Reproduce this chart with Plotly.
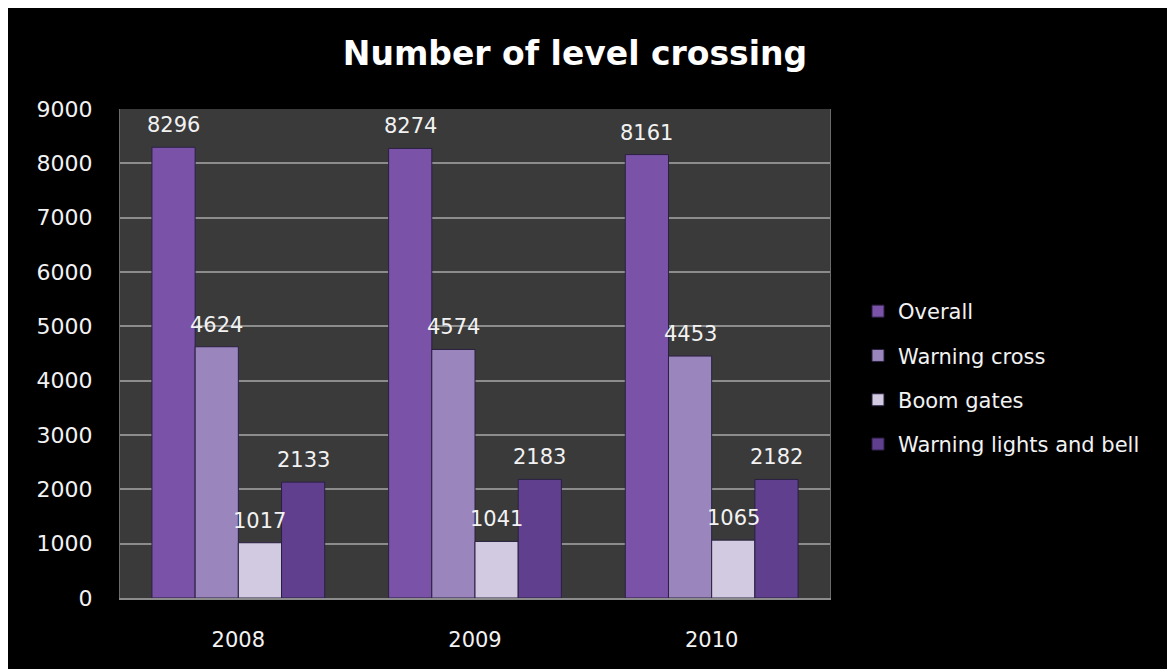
import plotly.graph_objects as go

years = ["2008", "2009", "2010"]
overall = [8296, 8274, 8161]
warning_cross = [4624, 4574, 4453]
boom_gates = [1017, 1041, 1065]
warning_lights = [2133, 2183, 2182]
series_names = ["Overall", "Warning cross", "Boom gates", "Warning lights and bell"]
series_values = [overall, warning_cross, boom_gates, warning_lights]
colors = ["#7a53a8", "#9a86bd", "#d2cae0", "#5f3f8e"]
y_ticks = [0, 1000, 2000, 3000, 4000, 5000, 6000, 7000, 8000, 9000]

# page body has an 8px white margin, which gives the white strip of the reference
OFF = 8
W, H = 1175 - OFF, 669 - OFF
ML, MR, MT, MB = 120 - OFF, 345, 109 - OFF, 71
BARGAP = 0.27
FONT = "DejaVu Sans"

fig = go.Figure()
for i, (name, vals, col) in enumerate(zip(series_names, series_values, colors)):
    fig.add_trace(go.Bar(
        x=years, y=vals, name=name, legendgroup=name,
        marker=dict(color=col, line=dict(color="#2a2040", width=1)),
        hoverinfo="x+y+name",
    ))

plot_w = W - ML - MR
plot_h = H - MT - MB
cat_w = plot_w / len(years)
bar_w = cat_w * (1 - BARGAP) / len(series_names)
n = len(series_names)
for i, vals in enumerate(series_values):
    for j, v in enumerate(vals):
        fig.add_annotation(
            x=j, y=v, text=str(v), showarrow=False,
            xref="x", yref="y", yanchor="bottom",
            xshift=(i - (n - 1) / 2) * bar_w, yshift=8,
            font=dict(family=FONT, size=21, color="#f2f2f2"),
        )

px = lambda p: (p - OFF - ML) / plot_w
py = lambda p: (H - MB - (p - OFF)) / plot_h

fig.update_layout(
    width=W, height=H,
    margin=dict(l=ML, r=MR, t=MT, b=MB, pad=0, autoexpand=False),
    paper_bgcolor="black", plot_bgcolor="#3a3a3a",
    barmode="group", bargap=BARGAP, bargroupgap=0,
    title=dict(text="<b>Number of level crossing</b>", x=(575 - OFF) / W, xref="container",
               y=1 - (53 - OFF) / H, yref="container", xanchor="center", yanchor="middle",
               font=dict(family=FONT, size=33, color="white")),
    font=dict(family=FONT, color="#f2f2f2"),
    legend=dict(x=px(858), xanchor="left", y=py(291), yanchor="top",
                font=dict(family=FONT, size=21, color="#f2f2f2"),
                traceorder="grouped", tracegroupgap=14,
                bgcolor="rgba(0,0,0,0)"),
    showlegend=True,
)
fig.update_xaxes(type="category", range=[-0.5, 2.5], autorange=False, automargin=False,
                 showgrid=False, showline=True,
                 linecolor="#8c8c8c", linewidth=2,
                 mirror=False, ticks="", ticklabelstandoff=22,
                 tickfont=dict(family=FONT, size=21, color="#f2f2f2"))
fig.update_yaxes(range=[0, 9000], autorange=False, tickvals=y_ticks, automargin=False, showgrid=True,
                 gridcolor="#8c8c8c", gridwidth=1.5, zeroline=False,
                 showline=True, linecolor="#6a6a6a", linewidth=1, mirror=True,
                 ticks="", ticklabelstandoff=22,
                 tickfont=dict(family=FONT, size=22, color="#f2f2f2"))

fig.write_html("out.html")
